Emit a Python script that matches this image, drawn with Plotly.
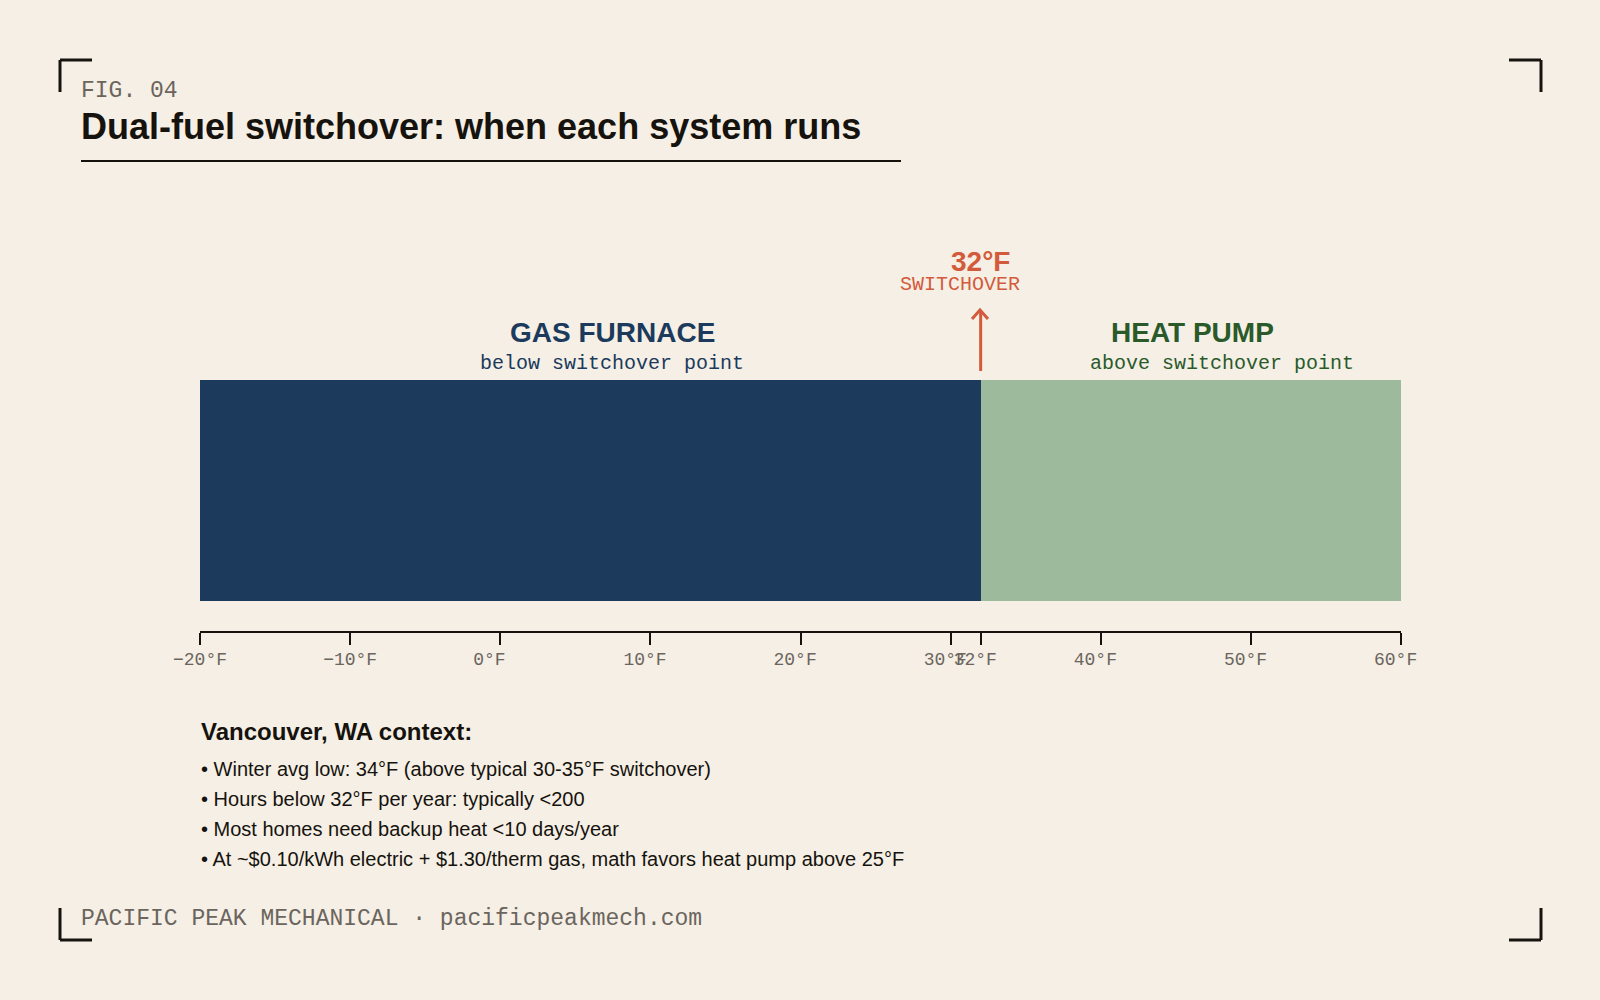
import plotly.graph_objects as go

# ---------------- data ----------------
range_min = -20
range_max = 60
switchover = 32
segments = ["GAS FURNACE", "HEAT PUMP"]
seg_base = [range_min, switchover]
seg_len = [switchover - range_min, range_max - switchover]
seg_colors = ["#1b3a5c", "#9dba9d"]
tick_vals = [-20, -10, 0, 10, 20, 30, 32, 40, 50, 60]
tick_text = ["\u221220°F", "\u221210°F", "0°F", "10°F", "20°F", "30°F", "32°F", "40°F", "50°F", "60°F"]
context_title = "Vancouver, WA context:"
context_lines = [
    "• Winter avg low: 34°F (above typical 30-35°F switchover)",
    "• Hours below 32°F per year: typically <200",
    "• Most homes need backup heat <10 days/year",
    "• At ~$0.10/kWh electric + $1.30/therm gas, math favors heat pump above 25°F",
]

W, H = 1600, 1000
L, R = 200, 1401          # plot area x in px
T, B = 380, 631           # plot area y in px
BG = "#f5efe5"
DARK = "#16130e"
GRAY = "#6b655e"
CORAL = "#d45a3c"
NAVY = "#1b3a5c"
GREEN = "#2a5a2a"
MONO = "Liberation Mono, Roboto Mono, monospace"
SANS = "Liberation Sans, Arial, sans-serif"


def px(x):
    return (x - L) / (R - L)


def py(y):
    return (B - y) / (B - T)


# labels are left-aligned in the reference: pad to equal width
pad_len = max(len(t) for t in tick_text)
tick_labels = [t + "\u00a0" * (pad_len - len(t)) for t in tick_text]

fig = go.Figure()
for name, b, l, c in zip(segments, seg_base, seg_len, seg_colors):
    fig.add_trace(go.Bar(y=[0], x=[l], base=[b], orientation="h", width=1,
                         marker=dict(color=c, line=dict(width=0)), name=name,
                         showlegend=False, hoverinfo="skip"))

bar_px = 221
fig.update_layout(
    width=W, height=H,
    margin=dict(l=L, r=W - R, t=T, b=H - B, pad=0),
    paper_bgcolor=BG, plot_bgcolor=BG,
    barmode="overlay", bargap=0,
    xaxis=dict(range=[range_min, range_max], tickvals=tick_vals, ticktext=tick_labels,
               tickangle=0, ticklabelstandoff=-2,
               showgrid=False, zeroline=False, showline=True, linecolor=DARK, linewidth=2,
               ticks="outside", ticklen=12, tickwidth=1.5, tickcolor=DARK,
               tickfont=dict(family=MONO, size=18, color=GRAY), fixedrange=True),
    yaxis=dict(range=[0.5 - (B - T) / bar_px, 0.5], visible=False, fixedrange=True),
)

shapes = []
lw = 3
# corner brackets
for (x0, y0, dx, dy) in [(60, 60, 1, 1), (1541, 60, -1, 1), (60, 940, 1, -1), (1541, 940, -1, -1)]:
    shapes.append(dict(type="line", xref="paper", yref="paper", x0=px(x0), y0=py(y0), x1=px(x0 + 32 * dx), y1=py(y0),
                       line=dict(color=DARK, width=lw)))
    shapes.append(dict(type="line", xref="paper", yref="paper", x0=px(x0), y0=py(y0), x1=px(x0), y1=py(y0 + 32 * dy),
                       line=dict(color=DARK, width=lw)))
# title underline
shapes.append(dict(type="line", xref="paper", yref="paper", x0=px(81), y0=py(161), x1=px(901), y1=py(161),
                   line=dict(color=DARK, width=2)))
# switchover arrow
shapes.append(dict(type="line", xref="x", yref="paper", x0=switchover, x1=switchover, y0=py(371), y1=py(310),
                   line=dict(color=CORAL, width=3)))
shapes.append(dict(type="path", xref="paper", yref="paper",
                   path=f"M {px(972)},{py(319)} L {px(980)},{py(310)} L {px(988)},{py(319)}",
                   line=dict(color=CORAL, width=3)))
fig.update_layout(shapes=shapes)


def ann(text, x, y, size, color, family, xanchor="left", bold=False):
    fig.add_annotation(text=f"<b>{text}</b>" if bold else text, xref="paper", yref="paper",
                       x=px(x), y=py(y), xanchor=xanchor, yanchor="middle", showarrow=False,
                       font=dict(size=size, color=color, family=family))


ann("FIG. 04", 79, 91, 23, GRAY, MONO)
ann("Dual-fuel switchover: when each system runs", 79, 126, 36, DARK, SANS, bold=True)
ann("GAS FURNACE", 612, 332, 28, NAVY, SANS, xanchor="center", bold=True)
ann("below switchover point", 612, 363, 20, NAVY, MONO, xanchor="center")
ann("HEAT PUMP", 1192, 332, 28, GREEN, SANS, xanchor="center", bold=True)
ann("above switchover point", 1222, 363, 20, GREEN, MONO, xanchor="center")
ann("32°F", 980, 261, 28, CORAL, SANS, xanchor="center", bold=True)
ann("SWITCHOVER", 960, 284, 20, CORAL, MONO, xanchor="center")
ann(context_title, 199, 731, 24, DARK, SANS, bold=True)
for i, line in enumerate(context_lines):
    ann(line, 199, 769 + i * 30, 20, DARK, SANS)
ann("PACIFIC PEAK MECHANICAL · pacificpeakmech.com", 79, 919, 23, GRAY, MONO)

fig.write_html("out.html")
